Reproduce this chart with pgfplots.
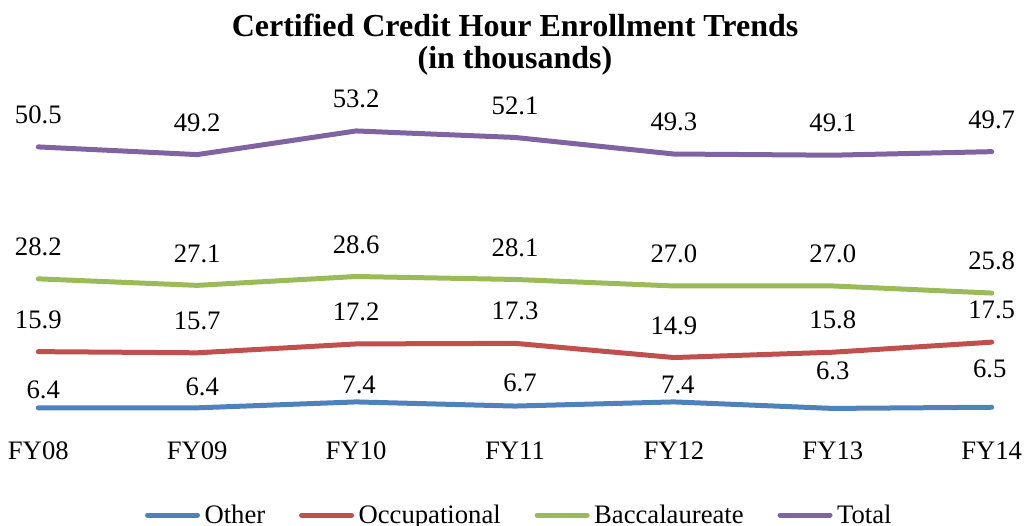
\documentclass[border=0pt]{standalone}
\usepackage{fontspec}
\setmainfont{Liberation Serif}
\usepackage{pgfplots}
\pgfplotsset{compat=1.18}
\definecolor{cOther}{HTML}{4F81BD}
\definecolor{cOcc}{HTML}{C0504D}
\definecolor{cBac}{HTML}{9BBB59}
\definecolor{cTot}{HTML}{8064A2}
\begin{document}
\begin{tikzpicture}
\begin{axis}[
  scale only axis, width=715.05pt, height=244.05pt,
  xmin=0, xmax=6, ymin=0, ymax=55, clip=false,
  axis line style={draw=none}, major tick length=0pt,
  ytick=\empty, xtick={0,1,2,3,4,5,6},
  xticklabels={FY08,FY09,FY10,FY11,FY12,FY13,FY14},
  xticklabel style={font=\fontsize{20}{24}\selectfont, anchor=base, yshift=-10.7pt},
  title={Certified Credit Hour Enrollment Trends\\(in thousands)},
  title style={at={(0.5,1.2077)}, anchor=center, align=center, font=\bfseries\fontsize{24}{24.6}\selectfont},
  every axis plot/.append style={line width=3.75pt, line cap=round, line join=round},
  /pgf/number format/.cd, fixed, fixed zerofill, precision=1, assume math mode=true, /pgfplots/.cd,
  nodes near coords style={font=\fontsize{20}{24}\selectfont, anchor=center, yshift=24pt, text=black},
  legend columns=4,
  legend style={at={(0.5034,-0.213)}, anchor=base, draw=none, fill=none, inner sep=0pt,
    font=\fontsize{20}{24}\selectfont, nodes={inner sep=0pt},
    /tikz/every odd column/.append style={column sep=3.4pt},
    /tikz/every even column/.append style={column sep=25.4pt}},
  legend image code/.code={\draw[#1, line width=3.75pt, line cap=round] (0pt,0pt) -- (37.5pt,0pt);},
]
\addplot[cOther, nodes near coords, point meta=explicit,
  visualization depends on={value \thisrow{dy}\as\dy},
  visualization depends on={value \thisrow{dx}\as\dx},
  nodes near coords style={yshift=\dy pt, xshift=\dx pt}]
  table[x=x, y=y, meta=y] {
x y dy dx
0 6.4 -10.5 3.75
1 6.4 -8.25 3.75
2 7.4 -11.25 2.25
3 6.7 -6.75 3.75
4 7.4 -11.25 3
5 6.3 4.5 0
6 6.5 4.5 -1.5
};
\addlegendentry{Other}
\addplot[cOcc, nodes near coords, point meta=y] coordinates {
(0,15.9) (1,15.7) (2,17.2) (3,17.3) (4,14.9) (5,15.8) (6,17.5)};
\addlegendentry{Occupational}
\addplot[cBac, nodes near coords, point meta=y] coordinates {
(0,28.2) (1,27.1) (2,28.6) (3,28.1) (4,27.0) (5,27.0) (6,25.8)};
\addlegendentry{Baccalaureate}
\addplot[cTot, nodes near coords, point meta=y] coordinates {
(0,50.5) (1,49.2) (2,53.2) (3,52.1) (4,49.3) (5,49.1) (6,49.7)};
\addlegendentry{Total}
\end{axis}
\path[use as bounding box] (-28.725pt,-59.475pt) rectangle (741.525pt,334.275pt);
\end{tikzpicture}
\end{document}
